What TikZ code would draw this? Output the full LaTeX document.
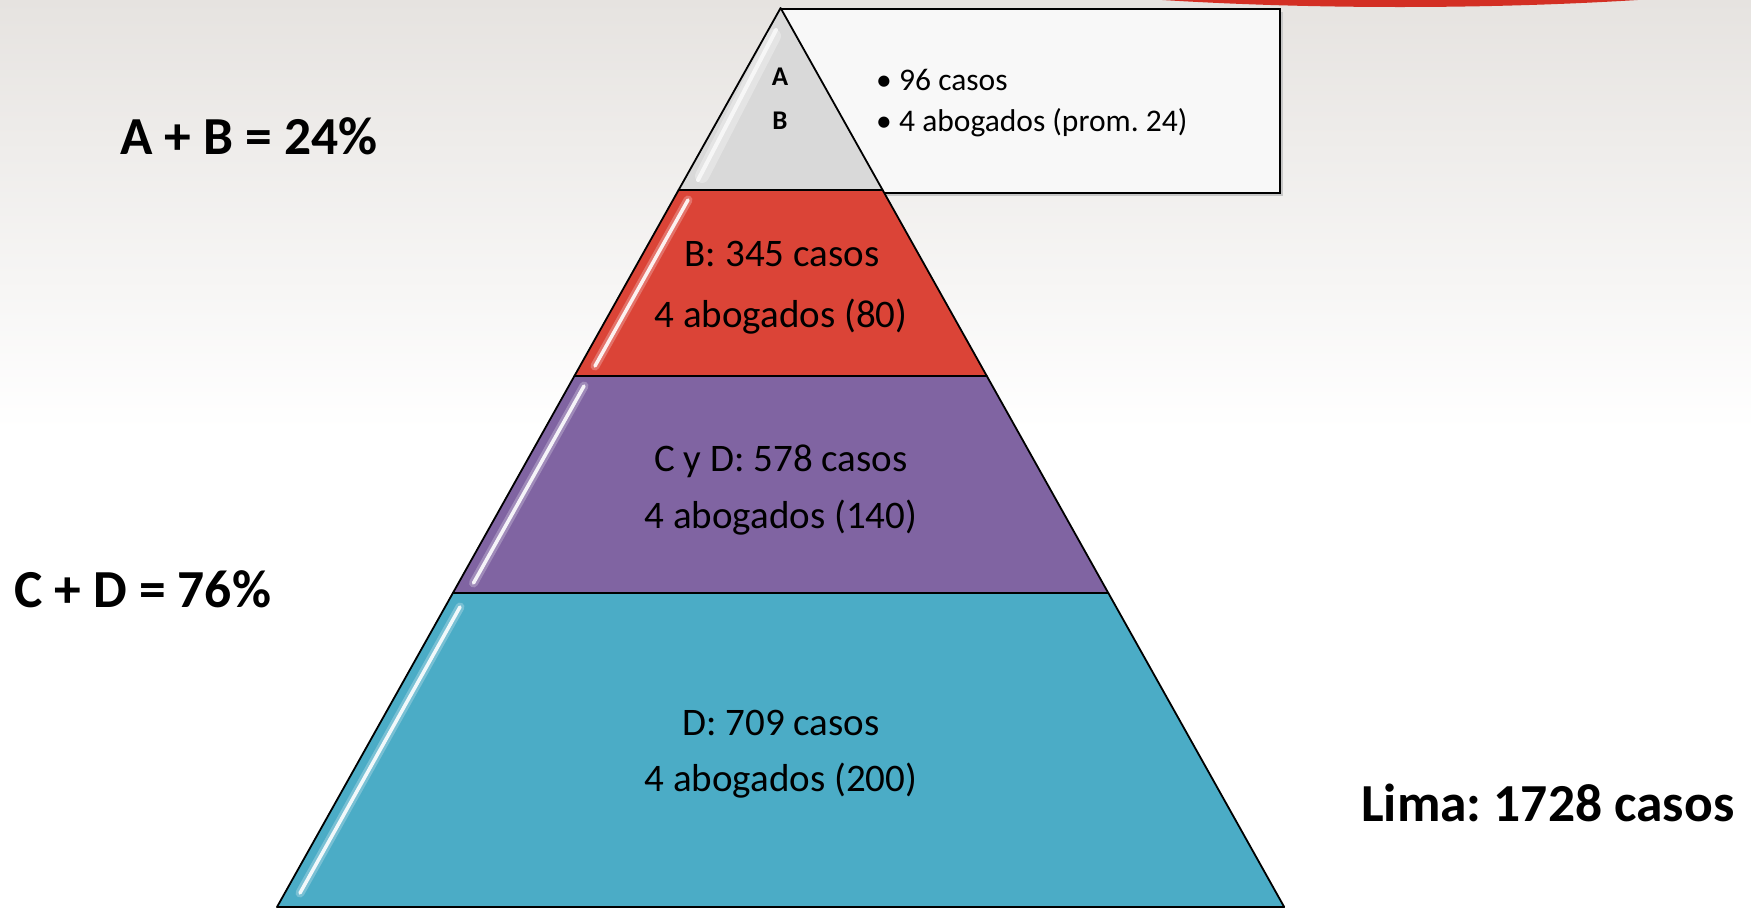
\documentclass[tikz,border=0pt]{standalone}
\usepackage{fontspec}
\setmainfont{Carlito}
\frenchspacing
\definecolor{bgtop}{HTML}{E6E3E0}
\definecolor{lgray}{HTML}{D9D9D9}
\definecolor{lred}{HTML}{DB4437}
\definecolor{lpurple}{HTML}{8064A2}
\definecolor{lblue}{HTML}{4BACC6}
\definecolor{boxfill}{HTML}{F8F8F8}
\definecolor{logored}{HTML}{D32F24}
\begin{document}
\begin{tikzpicture}[x=1pt,y=-1pt,
  layer/.style={draw=black, line width=1.8pt, line join=round},
  gloss/.style={white, line width=3.5pt, opacity=0.9, line cap=round},
  glow/.style={white, line width=9pt, opacity=0.25, line cap=round},
  lbl/.style={font=\fontsize{39}{47}\selectfont, anchor=base, inner sep=0pt},
  boxtxt/.style={font=\fontsize{31.5}{38}\selectfont, anchor=base west, inner sep=0pt},
  tiny/.style={font=\fontsize{27}{32}\selectfont\bfseries, anchor=base, inner sep=0pt},
  big/.style={font=\fontsize{53.5}{60}\selectfont\bfseries, anchor=base west, inner sep=0pt},
  ]
\clip (0,0) rectangle (1751,911);
\fill[white] (0,0) rectangle (1751,911);
\shade[top color=bgtop, bottom color=white] (0,0) rectangle (1751,430);
\fill[logored] (1400,-85) ellipse [x radius=620pt, y radius=92pt];

% info box
\fill[black!22] (785,12) rectangle (1283,196);
\draw[fill=boxfill, line width=1.8pt] (782,9) rectangle (1280,193);
\node[boxtxt] (t1) at (876,90) {\makebox[23pt][l]{•}96 casos};
\node[boxtxt] (t2) at (876,131) {\makebox[23pt][l]{•}4 abogados (prom. 24)};

% pyramid layers
\coordinate (ap) at (780.6,8);
\filldraw[layer, fill=lblue] (452.9,593) -- (277,907) -- (1284.2,907) -- (1108.3,593) -- cycle;
\filldraw[layer, fill=lpurple] (574.4,376) -- (452.9,593) -- (1108.3,593) -- (986.8,376) -- cycle;
\filldraw[layer, fill=lred] (678.6,190) -- (574.4,376) -- (986.8,376) -- (882.6,190) -- cycle;
\filldraw[layer, fill=lgray] (ap) -- (678.6,190) -- (882.6,190) -- cycle;

% gloss highlights
\draw[glow, line width=14pt, opacity=0.3] (774,36) -- (702,176);
\draw[gloss, line width=4pt, opacity=0.7] (776,30) -- (698,180);
\draw[glow] (688,200) -- (595,366);
\draw[gloss] (688,200) -- (595,366);
\draw[glow] (584,386) -- (473.5,583);
\draw[gloss] (584,386) -- (473.5,583);
\draw[glow] (460,607) -- (300,893);
\draw[gloss] (460,607) -- (300,893);

% texts
\node[tiny] (la) at (780,85) {A};
\node[tiny] (lb) at (780,129) {B};
\node[lbl] (r1) at (782,266) {B: 345 casos};
\node[lbl] (r2) at (781,327) {4 abogados (80)};
\node[lbl] (p1) at (781,471) {C y D: 578 casos};
\node[lbl] (p2) at (781,528) {4 abogados (140)};
\node[lbl] (b1) at (781,735) {D: 709 casos};
\node[lbl] (b2) at (781,791) {4 abogados (200)};

\node[big] (ab) at (120,154) {A + B = 24\%};
\node[big] (cd) at (14,607) {C + D = 76\%};
\node[big] (lima) at (1361,821) {Lima: 1728 casos};
\end{tikzpicture}
\end{document}
